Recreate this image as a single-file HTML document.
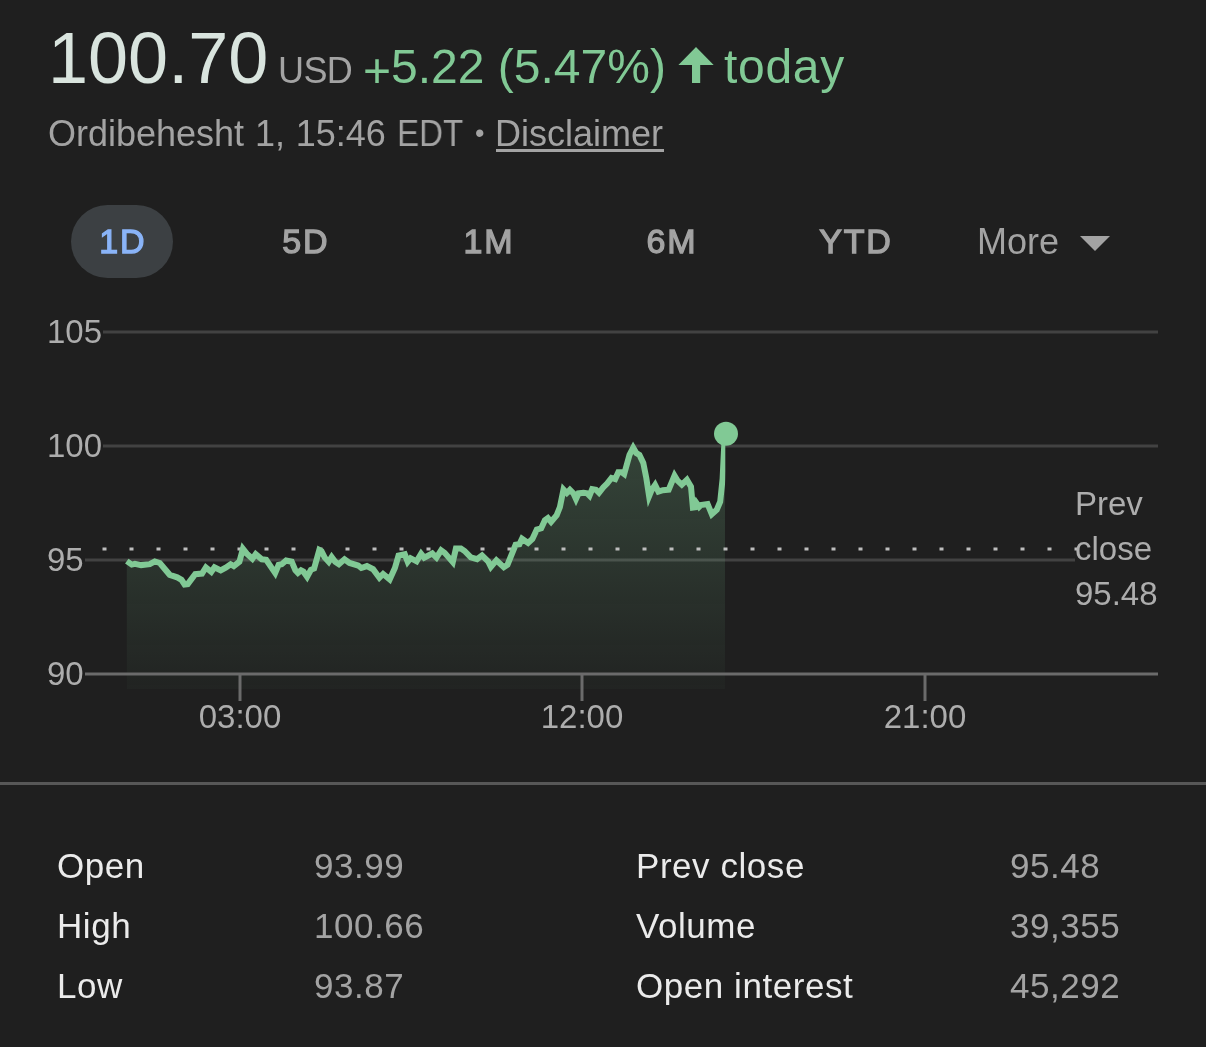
<!DOCTYPE html>
<html lang="en">
<head>
<meta charset="utf-8">
<title>Quote</title>
<style>
html,body{margin:0;padding:0;background:#1f1f1f;}
body{width:1206px;height:1047px;position:relative;overflow:hidden;font-family:"Liberation Sans",Arial,Helvetica,sans-serif;}
.t{position:absolute;line-height:1;white-space:nowrap;will-change:transform;}
.t.c{-webkit-text-stroke:0;}
.t.m{-webkit-text-stroke:1.3px currentColor;letter-spacing:1.8px;text-indent:1.8px;}
svg{position:absolute;left:0;top:0;}
.pill{position:absolute;left:71px;top:205px;width:102px;height:73px;border-radius:37px;background:#3c4043;}
.sep{position:absolute;left:0;top:782px;width:1206px;height:3px;background:#575757;}
a{color:inherit;text-decoration:none;}
.ul{position:absolute;left:496px;top:149px;width:168px;height:3px;background:#a3a3a3;}
</style>
</head>
<body>
<!-- header -->
<div class="t " style="left:48px;top:22px;font-size:72px;color:#d9e4de;">100.70</div>
<div class="t " style="left:278px;top:53px;font-size:36px;color:#a3a3a3;letter-spacing:-0.6px;">USD</div>
<div class="t " style="left:363px;top:43px;font-size:48px;color:#81c995;"><span style="position:relative;top:4px">+</span>5.22 (5.47%)</div>
<div class="t " style="left:723.5px;top:43px;font-size:48px;color:#81c995;letter-spacing:0.7px;">today</div>
<div class="t " style="left:48px;top:116px;font-size:36px;color:#a3a3a3;word-spacing:0.8px;">Ordibehesht 1, 15:46</div>
<div class="t " style="left:396.5px;top:116px;font-size:36px;color:#a3a3a3;transform:scaleX(0.92);transform-origin:0 0;">EDT</div>
<div class="t " style="left:475px;top:120px;font-size:27px;color:#a3a3a3;">&bull;</div>
<div class="t " style="left:495px;top:116px;font-size:36px;color:#a3a3a3;"><a href="#">Disclaimer</a></div>
<div class="ul"></div>

<!-- range tabs -->
<div class="pill"></div>
<div class="t m" style="left:0px;top:224px;font-size:34px;color:#8ab4f8;width:102px;left:71px;text-align:center;">1D</div>
<div class="t m" style="left:0px;top:224px;font-size:34px;color:#a3a3a3;width:102px;left:254px;text-align:center;">5D</div>
<div class="t m" style="left:0px;top:224px;font-size:34px;color:#a3a3a3;width:102px;left:437px;text-align:center;">1M</div>
<div class="t m" style="left:0px;top:224px;font-size:34px;color:#a3a3a3;width:102px;left:620px;text-align:center;">6M</div>
<div class="t m" style="left:0px;top:224px;font-size:34px;color:#a3a3a3;width:102px;left:804px;text-align:center;">YTD</div>
<div class="t " style="left:977px;top:224px;font-size:36px;color:#a3a3a3;">More</div>

<svg width="1206" height="1047" viewBox="0 0 1206 1047">
  <defs>
    <linearGradient id="g" gradientUnits="userSpaceOnUse" x1="0" y1="433" x2="0" y2="689">
      <stop offset="0" stop-color="#81c995" stop-opacity="0.23"/>
      <stop offset="1" stop-color="#81c995" stop-opacity="0.03"/>
    </linearGradient>
    <clipPath id="c"><rect x="120" y="300" width="605.3" height="400"/></clipPath>
  </defs>
  <!-- up arrow -->
  <path d="M678.4 65 L696 47 L713.7 65 L700.2 65 L700.2 83 L692 83 L692 65 Z" fill="#81c995"/>
  <!-- More caret -->
  <path d="M1080 236 L1110 236 L1095 251 Z" fill="#a3a3a3"/>
  <!-- grid -->
  <rect x="103" y="330.5" width="1055" height="3" fill="#424242"/>
  <rect x="103" y="444.5" width="1055" height="3" fill="#424242"/>
  <rect x="85"  y="558.5" width="990"  height="3" fill="#424242"/>
  <!-- area -->
  <path d="M126.8,689 L126.8,561.1 L131.8,564.6 L134.9,563.9 L141.1,565.1 L149.8,564.2 L154.8,561.4 L159.8,563.0 L169.7,574.8 L177.2,577.3 L181.5,579.8 L184.6,584.5 L187.7,584.1 L195.2,574.2 L202.0,573.6 L205.9,567.4 L211.3,571.8 L214.5,567.3 L220.7,570.4 L225.7,567.6 L230.6,564.2 L233.8,566.1 L239.4,561.7 L242.9,548.8 L246.8,553.7 L252.4,558.7 L255.7,554.2 L261.8,559.3 L266.2,559.9 L275.2,573.1 L278.6,564.9 L281.7,564.2 L286.1,560.5 L291.7,561.7 L295.4,570.4 L297.9,572.9 L301.0,570.4 L303.5,571.7 L307.1,576.8 L310.9,569.8 L314.1,568.6 L319.3,550.0 L321.5,551.2 L324.6,557.4 L328.7,561.9 L331.7,557.0 L335.2,561.7 L338.9,564.2 L344.5,559.3 L349.5,563.0 L358.2,565.5 L361.3,568.0 L366.9,566.1 L373.1,569.2 L379.4,577.7 L383.1,574.0 L389.7,579.4 L394.9,568.0 L398.5,555.6 L404.8,554.3 L407.7,561.8 L410.6,558.2 L416.6,561.3 L421.1,553.8 L424.2,557.7 L432.3,553.5 L436.5,557.6 L441.1,550.3 L444.7,552.9 L452.8,562.2 L455.9,548.6 L460.9,548.6 L464.6,551.0 L470.8,557.3 L477.1,559.1 L482.0,555.4 L488.3,561.6 L490.9,566.8 L496.4,560.4 L503.8,567.2 L507.5,564.7 L515.6,544.8 L519.4,544.2 L522.0,538.7 L528.1,543.0 L532.4,539.0 L536.8,529.5 L541.2,528.3 L544.9,520.2 L547.9,518.0 L551.1,521.9 L556.7,515.2 L559.9,507.1 L563.5,489.5 L566.8,493.0 L569.9,489.8 L573.5,493.4 L576.0,498.9 L578.5,493.4 L583.5,492.8 L587.2,493.4 L589.5,495.7 L592.2,489.1 L595.9,489.7 L599.0,492.8 L603.4,487.2 L607.1,483.5 L611.5,477.9 L615.2,479.1 L618.3,472.3 L622.0,472.3 L624.2,474.0 L629.5,454.9 L633.2,447.7 L636.3,453.0 L639.4,454.9 L643.3,463.0 L646.3,478.0 L649.1,496.1 L651.4,490.5 L655.1,485.0 L658.4,491.7 L662.9,490.2 L668.7,489.7 L674.5,475.7 L677.3,480.4 L681.8,484.7 L686.9,479.8 L691.0,486.8 L692.9,507.7 L695.0,507.4 L696.5,503.1 L699.1,506.8 L700.7,505.1 L707.6,504.0 L711.8,514.2 L716.8,509.7 L720.2,501.7 L722.6,478.8 L724.0,450.0 L725.0,433.5 L725.0,689 Z" fill="url(#g)"/>
  <!-- axis -->
  <rect x="85" y="672.5" width="1073" height="3" fill="#6b6b6b"/>
  <rect x="238.5" y="674" width="3" height="27" fill="#6b6b6b"/>
  <rect x="580.5" y="674" width="3" height="27" fill="#6b6b6b"/>
  <rect x="923.5" y="674" width="3" height="27" fill="#6b6b6b"/>
  <!-- prev close dotted -->
  <line x1="102.5" y1="549" x2="1080" y2="549" stroke="#bdbdbd" stroke-width="3" stroke-dasharray="4 23"/>
  <!-- line -->
  <polyline clip-path="url(#c)" points="126.8,561.1 131.8,564.6 134.9,563.9 141.1,565.1 149.8,564.2 154.8,561.4 159.8,563.0 169.7,574.8 177.2,577.3 181.5,579.8 184.6,584.5 187.7,584.1 195.2,574.2 202.0,573.6 205.9,567.4 211.3,571.8 214.5,567.3 220.7,570.4 225.7,567.6 230.6,564.2 233.8,566.1 239.4,561.7 242.9,548.8 246.8,553.7 252.4,558.7 255.7,554.2 261.8,559.3 266.2,559.9 275.2,573.1 278.6,564.9 281.7,564.2 286.1,560.5 291.7,561.7 295.4,570.4 297.9,572.9 301.0,570.4 303.5,571.7 307.1,576.8 310.9,569.8 314.1,568.6 319.3,550.0 321.5,551.2 324.6,557.4 328.7,561.9 331.7,557.0 335.2,561.7 338.9,564.2 344.5,559.3 349.5,563.0 358.2,565.5 361.3,568.0 366.9,566.1 373.1,569.2 379.4,577.7 383.1,574.0 389.7,579.4 394.9,568.0 398.5,555.6 404.8,554.3 407.7,561.8 410.6,558.2 416.6,561.3 421.1,553.8 424.2,557.7 432.3,553.5 436.5,557.6 441.1,550.3 444.7,552.9 452.8,562.2 455.9,548.6 460.9,548.6 464.6,551.0 470.8,557.3 477.1,559.1 482.0,555.4 488.3,561.6 490.9,566.8 496.4,560.4 503.8,567.2 507.5,564.7 515.6,544.8 519.4,544.2 522.0,538.7 528.1,543.0 532.4,539.0 536.8,529.5 541.2,528.3 544.9,520.2 547.9,518.0 551.1,521.9 556.7,515.2 559.9,507.1 563.5,489.5 566.8,493.0 569.9,489.8 573.5,493.4 576.0,498.9 578.5,493.4 583.5,492.8 587.2,493.4 589.5,495.7 592.2,489.1 595.9,489.7 599.0,492.8 603.4,487.2 607.1,483.5 611.5,477.9 615.2,479.1 618.3,472.3 622.0,472.3 624.2,474.0 629.5,454.9 633.2,447.7 636.3,453.0 639.4,454.9 643.3,463.0 646.3,478.0 649.1,496.1 651.4,490.5 655.1,485.0 658.4,491.7 662.9,490.2 668.7,489.7 674.5,475.7 677.3,480.4 681.8,484.7 686.9,479.8 691.0,486.8 692.9,507.7 695.0,507.4 696.5,503.1 699.1,506.8 700.7,505.1 707.6,504.0 711.8,514.2 716.8,509.7 720.2,501.7 722.6,478.8 724.0,450.0 725.0,433.5" fill="none" stroke="#81c995" stroke-width="6" stroke-linejoin="miter" stroke-miterlimit="10" stroke-linecap="butt"/>
  <circle cx="726" cy="433.8" r="12" fill="#81c995"/>
</svg>

<!-- y labels -->
<div class="t c" style="left:47px;top:315px;font-size:33px;color:#adadad;">105</div>
<div class="t c" style="left:47px;top:429px;font-size:33px;color:#adadad;">100</div>
<div class="t c" style="left:47px;top:543px;font-size:33px;color:#adadad;">95</div>
<div class="t c" style="left:47px;top:657px;font-size:33px;color:#adadad;">90</div>
<!-- x labels -->
<div class="t c" style="left:0px;top:700px;font-size:33px;color:#adadad;left:140px;width:200px;text-align:center;">03:00</div>
<div class="t c" style="left:0px;top:700px;font-size:33px;color:#adadad;left:482px;width:200px;text-align:center;">12:00</div>
<div class="t c" style="left:0px;top:700px;font-size:33px;color:#adadad;left:825px;width:200px;text-align:center;">21:00</div>
<!-- prev close label -->
<div class="t c" style="left:1075px;top:487px;font-size:33px;color:#adadad;">Prev</div>
<div class="t c" style="left:1075px;top:532px;font-size:33px;color:#adadad;">close</div>
<div class="t c" style="left:1075px;top:577px;font-size:33px;color:#adadad;">95.48</div>

<div class="sep"></div>

<!-- stats -->
<div class="t " style="left:57px;top:848px;font-size:35px;color:#ebebeb;letter-spacing:0.55px;">Open</div>
<div class="t " style="left:57px;top:908px;font-size:35px;color:#ebebeb;letter-spacing:0.55px;">High</div>
<div class="t " style="left:57px;top:968px;font-size:35px;color:#ebebeb;letter-spacing:0.55px;">Low</div>
<div class="t " style="left:313.5px;top:848px;font-size:35px;color:#a3a3a3;letter-spacing:0.55px;">93.99</div>
<div class="t " style="left:313.5px;top:908px;font-size:35px;color:#a3a3a3;letter-spacing:0.55px;">100.66</div>
<div class="t " style="left:313.5px;top:968px;font-size:35px;color:#a3a3a3;letter-spacing:0.55px;">93.87</div>
<div class="t " style="left:636px;top:848px;font-size:35px;color:#ebebeb;letter-spacing:0.55px;">Prev close</div>
<div class="t " style="left:636px;top:908px;font-size:35px;color:#ebebeb;letter-spacing:0.55px;">Volume</div>
<div class="t " style="left:636px;top:968px;font-size:35px;color:#ebebeb;letter-spacing:0.55px;">Open interest</div>
<div class="t " style="left:1010px;top:848px;font-size:35px;color:#a3a3a3;letter-spacing:0.55px;">95.48</div>
<div class="t " style="left:1010px;top:908px;font-size:35px;color:#a3a3a3;letter-spacing:0.55px;">39,355</div>
<div class="t " style="left:1010px;top:968px;font-size:35px;color:#a3a3a3;letter-spacing:0.55px;">45,292</div>
</body>
</html>
